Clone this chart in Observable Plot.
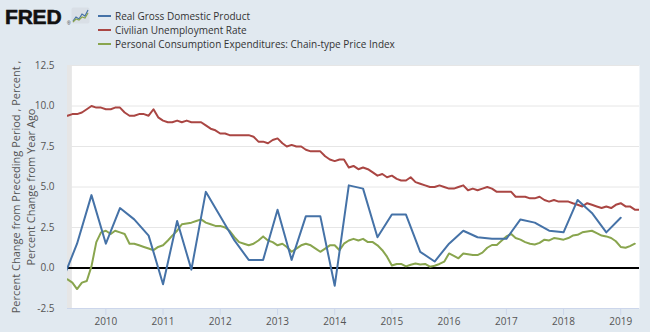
<!DOCTYPE html>
<html>
<head>
<meta charset="utf-8">
<script src="https://cdn.jsdelivr.net/npm/d3@7"></script>
<script src="https://cdn.jsdelivr.net/npm/@observablehq/plot@0.6"></script>
<style>
  html, body { margin: 0; padding: 0; }
  body { width: 650px; height: 332px; overflow: hidden; background: #e1e9f0; position: relative; font-family: "Open Sans", sans-serif; }
  #header { position: relative; height: 55px; }
  .logo { position: absolute; left: 5px; top: 6px; font-family: "Liberation Sans", Arial, sans-serif; font-weight: bold; font-size: 21px; line-height: 21px; letter-spacing: -0.2px; color: #111; -webkit-text-stroke: 0.6px #111; }
  .reg { position: absolute; left: 67px; top: 20px; font-size: 5px; color: #333; font-family: "Liberation Sans", sans-serif; }
  .icon { position: absolute; left: 71px; top: 7px; }
  .row { position: absolute; left: 98px; height: 14px; line-height: 14px; font-size: 10px; color: #333; white-space: nowrap; }
  .sw { display: inline-block; width: 13px; height: 2px; vertical-align: middle; margin-right: 4px; position: relative; top: -1px; }
  #chart svg { display: block; }
</style>
</head>
<body>
<div id="header">
  <div class="logo">FRED</div>
  <div class="reg">®</div>
  <svg class="icon" width="19" height="17" viewBox="0 0 19 17">
    <rect x="0.5" y="0.5" width="18" height="16" rx="2" fill="#d9dfe6"/>
    <polyline points="2,14 5,10 8,12 11,7 14,9 17,3" fill="none" stroke="#4572a7" stroke-width="1.2"/>
    <polyline points="2,15 5,12 8,13 11,10 14,11 17,6" fill="none" stroke="#89a54e" stroke-width="1.2"/>
  </svg>
  <div id="legend"></div>
</div>
<div id="chart"></div>
<script>
// ---- Data ----
const seriesNames = [
  "Real Gross Domestic Product",
  "Civilian Unemployment Rate",
  "Personal Consumption Expenditures: Chain-type Price Index"
];
const seriesColors = ["#4572a7", "#aa4643", "#89a54e"];

// Real GDP, % change from preceding period (quarterly, 2009Q2 .. 2019Q1)
const gdpStart = "2009-04-01";
const gdpValues = [
  -0.7, 1.5, 4.5,
  1.5, 3.7, 3.0, 2.0,
  -1.0, 2.9, -0.1, 4.7,
  3.2, 1.7, 0.5, 0.5,
  3.6, 0.5, 3.2, 3.2,
  -1.1, 5.1, 4.9, 1.9,
  3.3, 3.3, 1.0, 0.4,
  1.5, 2.3, 1.9, 1.8,
  1.8, 3.0, 2.8, 2.3,
  2.2, 4.2, 3.4, 2.2,
  3.1
];

// Civilian unemployment rate, percent (monthly, 2009-05 .. 2019-05)
const unrateStart = "2009-05-01";
const unrateValues = [
  9.4, 9.5, 9.5, 9.6, 9.8, 10.0, 9.9, 9.9,
  9.8, 9.8, 9.9, 9.9, 9.6, 9.4, 9.4, 9.5, 9.5, 9.4, 9.8, 9.3,
  9.1, 9.0, 9.0, 9.1, 9.0, 9.1, 9.0, 9.0, 9.0, 8.8, 8.6, 8.5,
  8.3, 8.3, 8.2, 8.2, 8.2, 8.2, 8.2, 8.1, 7.8, 7.8, 7.7, 7.9,
  8.0, 7.7, 7.5, 7.6, 7.5, 7.5, 7.3, 7.2, 7.2, 7.2, 6.9, 6.7,
  6.6, 6.7, 6.7, 6.2, 6.3, 6.1, 6.2, 6.1, 5.9, 5.7, 5.8, 5.6,
  5.7, 5.5, 5.4, 5.4, 5.6, 5.3, 5.2, 5.1, 5.0, 5.0, 5.1, 5.0,
  4.9, 4.9, 5.0, 5.1, 4.8, 4.9, 4.8, 4.9, 5.0, 4.9, 4.7, 4.7,
  4.7, 4.7, 4.4, 4.4, 4.4, 4.3, 4.3, 4.4, 4.2, 4.1, 4.2, 4.1,
  4.1, 4.1, 4.0, 3.9, 3.8, 4.0, 3.9, 3.8, 3.7, 3.8, 3.7, 3.9,
  4.0, 3.8, 3.8, 3.6, 3.6
];

// PCE chain-type price index, % change from year ago (monthly, 2009-05 .. 2019-04)
const pceStart = "2009-05-01";
const pceValues = [
  -0.7, -0.9, -1.3, -0.9, -0.8, 0.1, 1.6, 2.2,
  2.3, 2.1, 2.3, 2.2, 2.1, 1.5, 1.5, 1.4, 1.3, 1.2, 1.1, 1.3,
  1.4, 1.7, 2.0, 2.3, 2.7, 2.75, 2.8, 2.9, 3.0, 2.8, 2.7, 2.6,
  2.6, 2.5, 2.3, 1.9, 1.6, 1.5, 1.4, 1.5, 1.7, 1.95, 1.7, 1.6,
  1.4, 1.5, 1.3, 1.0, 1.2, 1.4, 1.5, 1.4, 1.2, 1.0, 1.2, 1.4,
  1.4, 1.1, 1.5, 1.7, 1.8, 1.7, 1.8, 1.6, 1.6, 1.4, 1.1, 0.7,
  0.15, 0.25, 0.25, 0.1, 0.2, 0.28, 0.22, 0.25, 0.08, 0.14, 0.25, 0.39,
  0.9, 0.75, 0.6, 0.9, 0.85, 0.8, 0.8, 0.95, 1.25, 1.42, 1.42, 1.68,
  1.95, 2.1, 1.85, 1.75, 1.6, 1.5, 1.45, 1.55, 1.75, 1.7, 1.85, 1.8,
  1.75, 1.85, 2.0, 2.05, 2.2, 2.25, 2.3, 2.15, 2.0, 1.95, 1.85, 1.65,
  1.3, 1.25, 1.35, 1.5
];

// Recession shading (NBER)
const recessionStart = ["2008-01-01"];
const recessionEnd = ["2009-06-01"];

const xDomain = ["2009-05-01", "2019-05-01"];
const yearLabels = ["2010", "2011", "2012", "2013", "2014", "2015", "2016", "2017", "2018", "2019"];
const yTicks = [-2.5, 0, 2.5, 5, 7.5, 10, 12.5];
const yTitle = "Percent Change from Preceding Period , Percent ,\nPercent Change from Year Ago";

// ---- Build tables ----
const gdpDates = d3.utcMonth.every(3).range(new Date(gdpStart), new Date(Date.UTC(2030, 0, 1))).slice(0, gdpValues.length);
const gdp = gdpValues.map((v, i) => ({date: gdpDates[i], value: v}));
const unDates = d3.utcMonth.range(new Date(unrateStart), new Date(Date.UTC(2030, 0, 1))).slice(0, unrateValues.length);
const unrate = unrateValues.map((v, i) => ({date: unDates[i], value: v}));
const pceDates = d3.utcMonth.range(new Date(pceStart), new Date(Date.UTC(2030, 0, 1))).slice(0, pceValues.length);
const pce = pceValues.map((v, i) => ({date: pceDates[i], value: v}));
const recessions = recessionStart.map((s, i) => ({start: new Date(s), end: new Date(recessionEnd[i])}));
const xTicks = yearLabels.map(y => new Date(`${y}-01-01`));

// ---- Legend ----
const legend = document.getElementById("legend");
seriesNames.forEach((name, i) => {
  const row = document.createElement("div");
  row.className = "row";
  row.style.top = (9 + i * 14) + "px";
  const sw = document.createElement("span");
  sw.className = "sw";
  sw.style.background = seriesColors[i];
  row.appendChild(sw);
  row.appendChild(document.createTextNode(name));
  legend.appendChild(row);
});

// ---- Chart ----
const chart = Plot.plot({
  width: 650,
  height: 277,
  marginLeft: 67,
  marginRight: 11,
  marginTop: 10,
  marginBottom: 24,
  style: {background: "transparent", fontFamily: "'Open Sans', sans-serif", fontSize: "10px", color: "#555"},
  x: {type: "utc", domain: xDomain.map(d => new Date(d))},
  y: {domain: [yTicks[0], yTicks[yTicks.length - 1]]},
  marks: [
    Plot.frame({fill: "white", stroke: "none"}),
    Plot.rect(recessions, {x1: "start", x2: "end", fill: "#e6e6e6", clip: true}),
    Plot.gridY(yTicks, {stroke: "#e6e6e6", strokeOpacity: 1}),
    Plot.ruleY([-2.5], {stroke: "#ccd6eb"}),
    Plot.ruleY([0], {stroke: "black", strokeWidth: 2}),
    Plot.line(unrate, {x: "date", y: "value", stroke: seriesColors[1], strokeWidth: 2, clip: true}),
    Plot.line(pce, {x: "date", y: "value", stroke: seriesColors[2], strokeWidth: 2, clip: true}),
    Plot.line(gdp, {x: "date", y: "value", stroke: seriesColors[0], strokeWidth: 2, clip: true}),
    Plot.axisX(xTicks, {tickFormat: d3.utcFormat("%Y"), tickSize: 7, tickPadding: 2, stroke: "#ccd6eb", fill: "#555", label: null, fontSize: 10}),
    Plot.axisY(yTicks, {tickFormat: d => d.toFixed(1), tickSize: 0, tickPadding: 13, fill: "#555", label: null, fontSize: 10}),
    Plot.text([yTitle], {frameAnchor: "left", rotate: -90, dx: -44.5, textAnchor: "middle", lineAnchor: "middle", lineHeight: 1.36, fontSize: 11, fill: "#555"})
  ]
});
document.getElementById("chart").appendChild(chart);
</script>
</body>
</html>
